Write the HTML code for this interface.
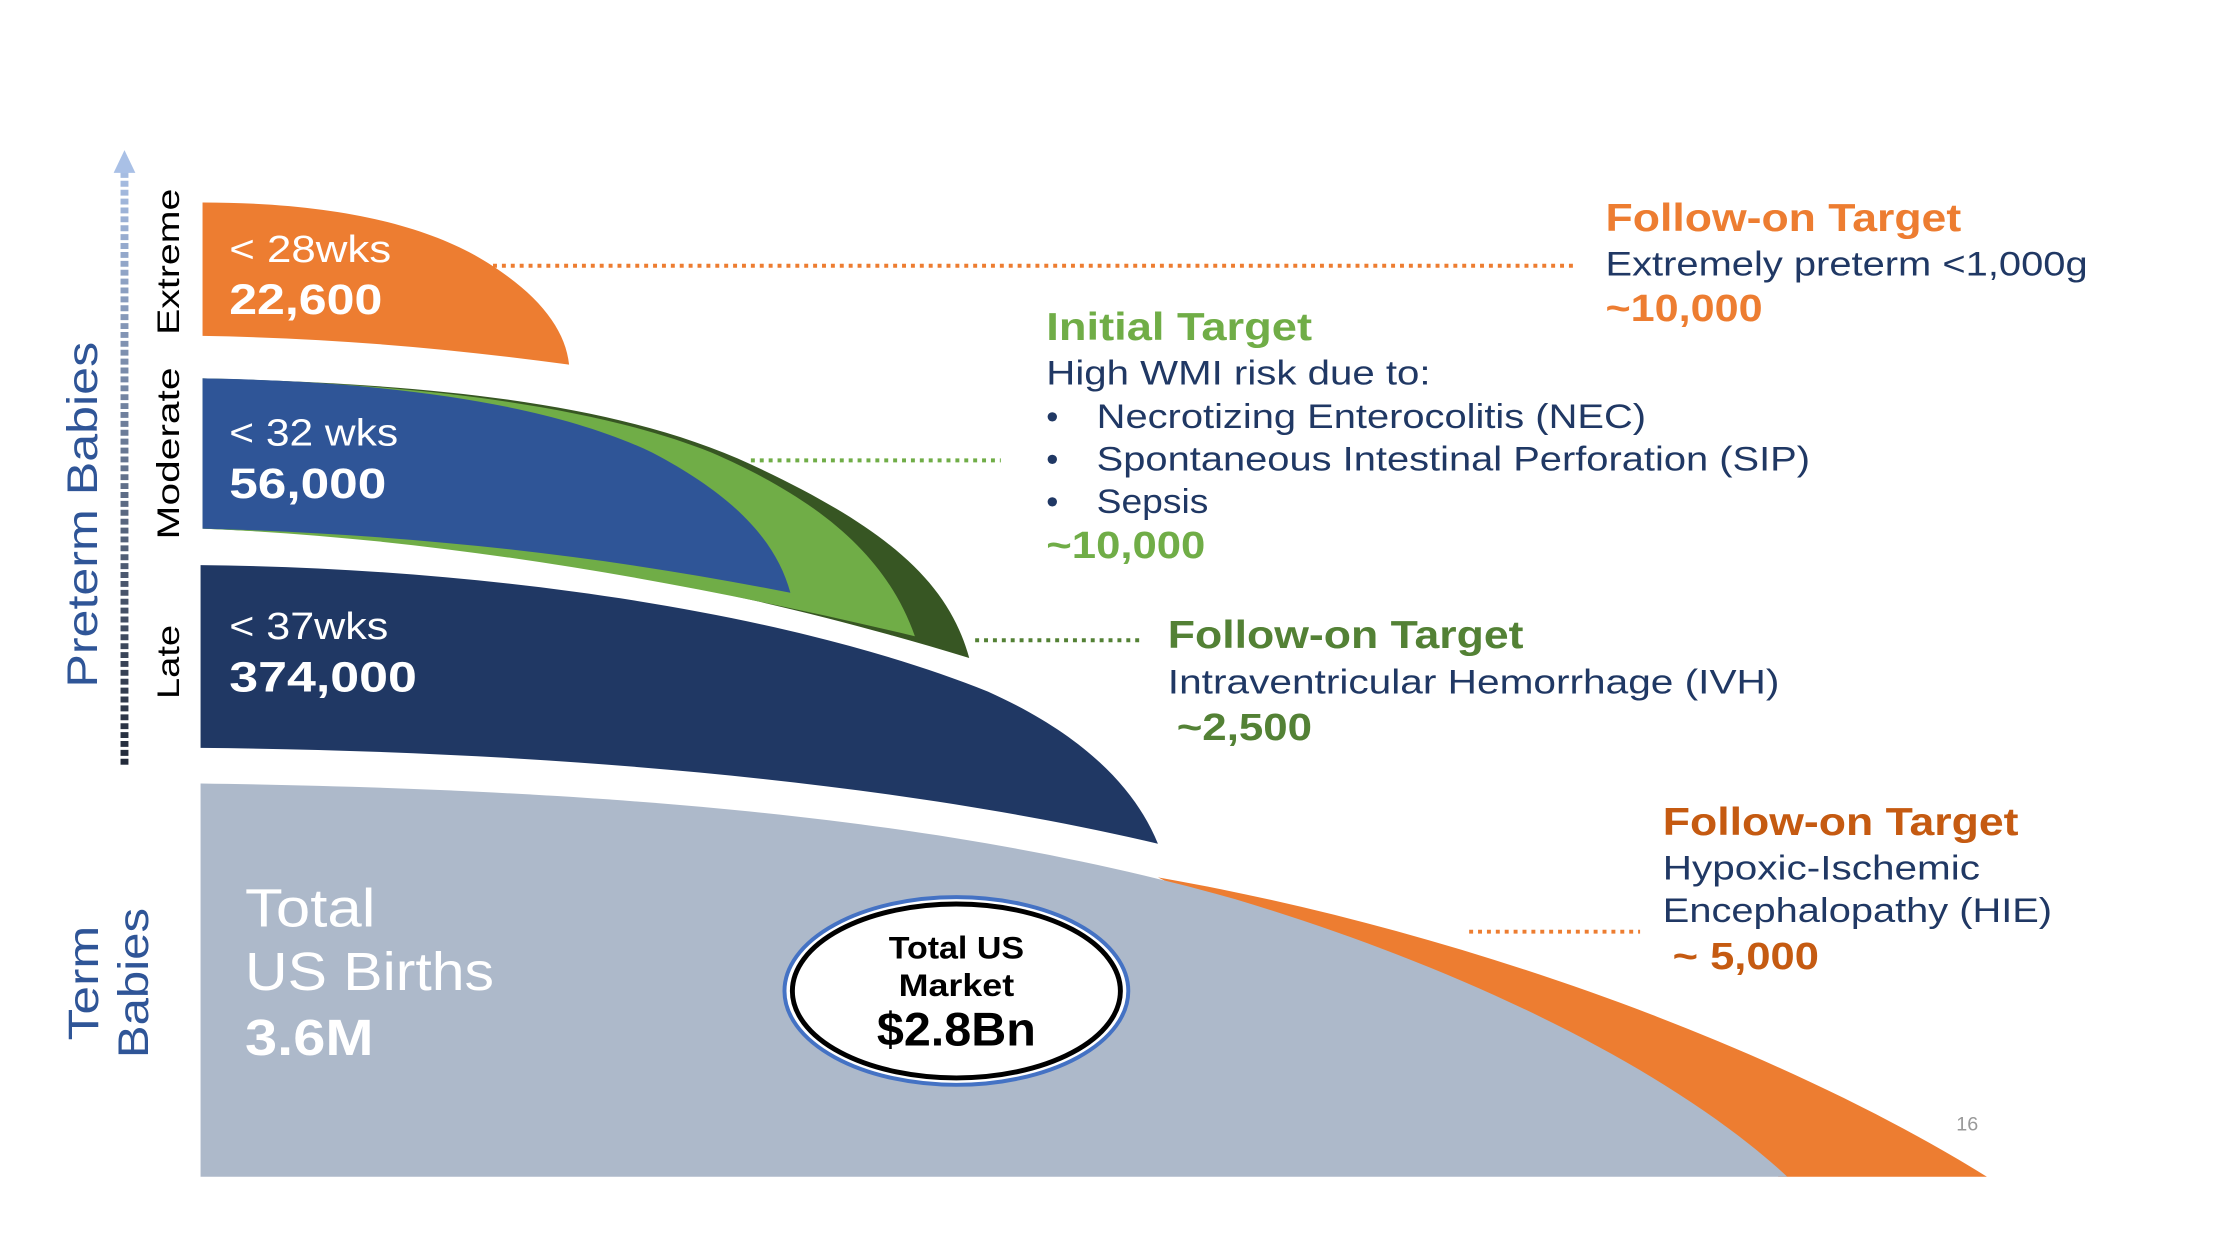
<!DOCTYPE html>
<html><head><meta charset="utf-8"><style>
html,body{margin:0;padding:0;background:#fff;}
svg{display:block;}
text{font-family:"Liberation Sans",sans-serif;}
</style></head><body>
<svg width="2240" height="1260" viewBox="0 0 2240 1260" xmlns="http://www.w3.org/2000/svg">
<defs>
<linearGradient id="ax" gradientUnits="userSpaceOnUse" x1="0" y1="774" x2="0" y2="160">
<stop offset="0" stop-color="#222a3a"/><stop offset="1" stop-color="#a9c0e6"/>
</linearGradient>
</defs>
<rect width="2240" height="1260" fill="#fff"/>
<g transform="scale(0.988)">
<!-- axis arrow -->
<rect x="122" y="172" width="8" height="602" fill="url(#ax)"/>
<line x1="126" y1="774" x2="126" y2="172" stroke="#fff" stroke-width="10" stroke-dasharray="3,6" stroke-dashoffset="-6"/>
<polygon points="126,152 115,175 137,175" fill="#a9c0e6"/>

<!-- Extreme -->
<path d="M205,205 C330,205 420,225 480,258 C540,292 572,330 576,369 C450,352 330,342 205,340 Z" fill="#ED7D31"/>
<!-- Moderate -->
<path d="M205,383 C420,388 620,405 760,470 C900,535 960,590 981,666 C700,580 450,545 205,535 Z" fill="#375623"/>
<path d="M205,383 C420,388 600,410 720,458 C840,510 900,570 926,644 C700,590 450,545 205,535 Z" fill="#70AD47"/>
<path d="M205,383 C400,386 560,410 660,458 C740,500 785,545 800,600 C600,560 400,540 205,535 Z" fill="#2F5597"/>
<!-- Late -->
<path d="M203,572 C500,575 800,620 1000,700 C1100,745 1150,800 1172,854 C900,790 550,760 203,757 Z" fill="#203864"/>
<!-- Term -->
<path d="M1172,888 C1480,942 1800,1060 2011,1191 L1800,1191 Z" fill="#ED7D31"/>
<path d="M203,793 C700,800 1000,840 1250,910 C1500,985 1700,1090 1809,1191 L203,1191 Z" fill="#ADB9CA"/>

<!-- dotted connectors -->
<line x1="499" y1="269" x2="1592" y2="269" stroke="#ED7D31" stroke-width="4" stroke-dasharray="4,5"/>
<line x1="760" y1="466" x2="1013" y2="466" stroke="#70AD47" stroke-width="4" stroke-dasharray="4,5"/>
<line x1="987" y1="648" x2="1158" y2="648" stroke="#538135" stroke-width="4" stroke-dasharray="4,5"/>
<line x1="1487" y1="943" x2="1660" y2="943" stroke="#ED7D31" stroke-width="4" stroke-dasharray="4,5"/>

<!-- ellipse -->
<ellipse cx="968" cy="1003" rx="174" ry="95" fill="#fff" stroke="#4472C4" stroke-width="4"/>
<ellipse cx="968" cy="1003" rx="166" ry="88" fill="#fff" stroke="#000" stroke-width="5"/>
<text x="968" y="970" font-size="32" font-weight="bold" text-anchor="middle" textLength="137" lengthAdjust="spacingAndGlyphs">Total US</text>
<text x="968" y="1008" font-size="32" font-weight="bold" text-anchor="middle" textLength="117" lengthAdjust="spacingAndGlyphs">Market</text>
<text x="968" y="1058" font-size="48" font-weight="bold" text-anchor="middle" textLength="161" lengthAdjust="spacingAndGlyphs">$2.8Bn</text>

<!-- left labels -->
<text transform="translate(98,521) rotate(-90)" font-size="43" fill="#2F5597" text-anchor="middle" textLength="350" lengthAdjust="spacingAndGlyphs">Preterm Babies</text>
<text transform="translate(181,265) rotate(-90)" font-size="32" fill="#000" text-anchor="middle" textLength="148" lengthAdjust="spacingAndGlyphs">Extreme</text>
<text transform="translate(181,459) rotate(-90)" font-size="32" fill="#000" text-anchor="middle" textLength="174" lengthAdjust="spacingAndGlyphs">Moderate</text>
<text transform="translate(181,670) rotate(-90)" font-size="32" fill="#000" text-anchor="middle" textLength="75" lengthAdjust="spacingAndGlyphs">Late</text>
<text transform="translate(99,995) rotate(-90)" font-size="43" fill="#2F5597" text-anchor="middle" textLength="116" lengthAdjust="spacingAndGlyphs">Term</text>
<text transform="translate(150,995) rotate(-90)" font-size="43" fill="#2F5597" text-anchor="middle" textLength="152" lengthAdjust="spacingAndGlyphs">Babies</text>

<!-- shape texts -->
<g fill="#fff">
<text x="232" y="265" font-size="38" textLength="164" lengthAdjust="spacingAndGlyphs">&lt; 28wks</text>
<text x="232" y="318" font-size="43" font-weight="bold" textLength="155" lengthAdjust="spacingAndGlyphs">22,600</text>
<text x="232" y="451" font-size="38" textLength="171" lengthAdjust="spacingAndGlyphs">&lt; 32 wks</text>
<text x="232" y="504" font-size="43" font-weight="bold" textLength="159" lengthAdjust="spacingAndGlyphs">56,000</text>
<text x="232" y="647" font-size="38" textLength="161" lengthAdjust="spacingAndGlyphs">&lt; 37wks</text>
<text x="232" y="700" font-size="43" font-weight="bold" textLength="190" lengthAdjust="spacingAndGlyphs">374,000</text>
<text x="248" y="938" font-size="54" textLength="132" lengthAdjust="spacingAndGlyphs">Total</text>
<text x="248" y="1002" font-size="54" textLength="252" lengthAdjust="spacingAndGlyphs">US Births</text>
<text x="248" y="1068" font-size="52" font-weight="bold" textLength="130" lengthAdjust="spacingAndGlyphs">3.6M</text>
</g>

<!-- right texts -->
<text x="1625" y="234" font-size="39" font-weight="bold" fill="#ED7D31" textLength="360" lengthAdjust="spacingAndGlyphs">Follow-on Target</text>
<text x="1625" y="279" font-size="35" fill="#203864" textLength="488" lengthAdjust="spacingAndGlyphs">Extremely preterm &lt;1,000g</text>
<text x="1625" y="325" font-size="38" font-weight="bold" fill="#ED7D31" textLength="159" lengthAdjust="spacingAndGlyphs">~10,000</text>

<text x="1059" y="344" font-size="39" font-weight="bold" fill="#70AD47" textLength="269" lengthAdjust="spacingAndGlyphs">Initial Target</text>
<text x="1059" y="389" font-size="35" fill="#203864" textLength="389" lengthAdjust="spacingAndGlyphs">High WMI risk due to:</text>
<text x="1059" y="433" font-size="35" fill="#203864">•</text>
<text x="1110" y="433" font-size="35" fill="#203864" textLength="556" lengthAdjust="spacingAndGlyphs">Necrotizing Enterocolitis (NEC)</text>
<text x="1059" y="476" font-size="35" fill="#203864">•</text>
<text x="1110" y="476" font-size="35" fill="#203864" textLength="722" lengthAdjust="spacingAndGlyphs">Spontaneous Intestinal Perforation (SIP)</text>
<text x="1059" y="519" font-size="35" fill="#203864">•</text>
<text x="1110" y="519" font-size="35" fill="#203864" textLength="113" lengthAdjust="spacingAndGlyphs">Sepsis</text>
<text x="1059" y="565" font-size="38" font-weight="bold" fill="#70AD47" textLength="161" lengthAdjust="spacingAndGlyphs">~10,000</text>

<text x="1182" y="656" font-size="39" font-weight="bold" fill="#538135" textLength="360" lengthAdjust="spacingAndGlyphs">Follow-on Target</text>
<text x="1182" y="702" font-size="35" fill="#203864" textLength="619" lengthAdjust="spacingAndGlyphs">Intraventricular Hemorrhage (IVH)</text>
<text x="1191" y="749" font-size="38" font-weight="bold" fill="#538135" textLength="137" lengthAdjust="spacingAndGlyphs">~2,500</text>

<text x="1683" y="845" font-size="39" font-weight="bold" fill="#C55A11" textLength="360" lengthAdjust="spacingAndGlyphs">Follow-on Target</text>
<text x="1683" y="890" font-size="35" fill="#203864" textLength="321" lengthAdjust="spacingAndGlyphs">Hypoxic-Ischemic</text>
<text x="1683" y="933" font-size="35" fill="#203864" textLength="394" lengthAdjust="spacingAndGlyphs">Encephalopathy (HIE)</text>
<text x="1693" y="981" font-size="38" font-weight="bold" fill="#C55A11" textLength="148" lengthAdjust="spacingAndGlyphs">~ 5,000</text>

<text x="1980" y="1144" font-size="20" fill="#999">16</text>
</g>
</svg>
</body></html>
